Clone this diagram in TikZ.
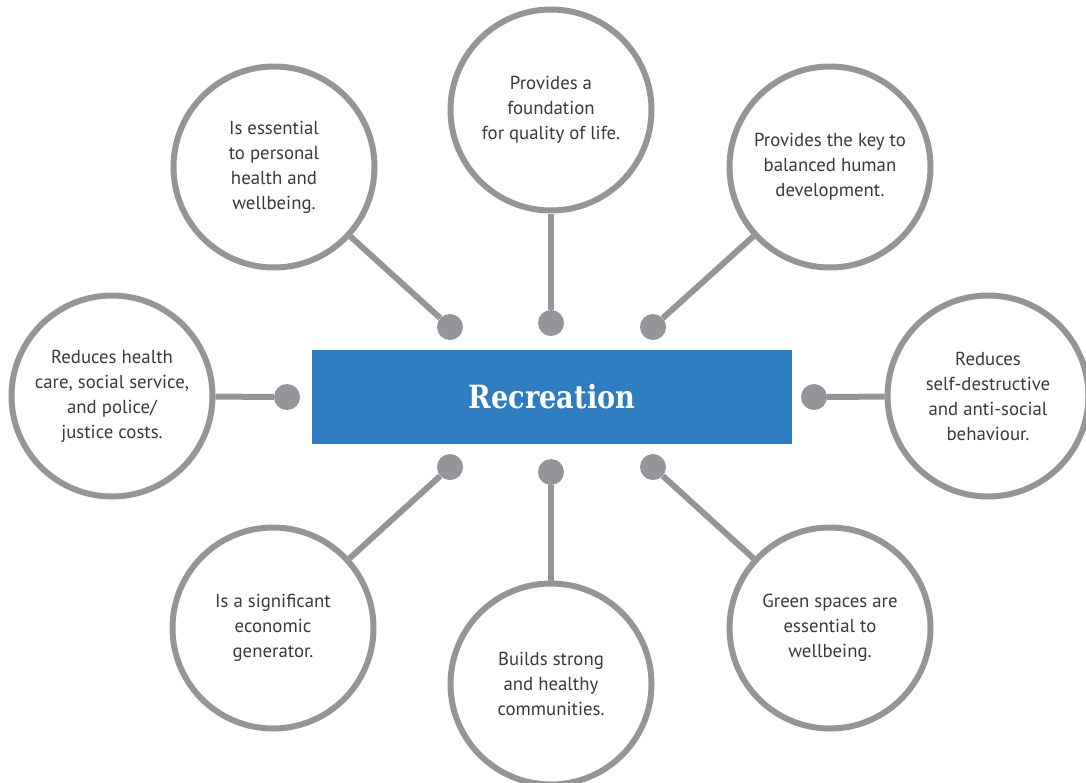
\documentclass[tikz,border=0pt]{standalone}
\usepackage{fontspec}
\setmainfont{PT Sans}
\newfontfamily\titlefont{DejaVu Serif}
\definecolor{linegray}{HTML}{939598}
\definecolor{textgray}{HTML}{3A3A3C}
\definecolor{recblue}{HTML}{2E7DC1}
\begin{document}
\begin{tikzpicture}[x=1pt,y=-1pt,
  bubble/.style={circle, draw=linegray, line width=6pt, fill=white, minimum size=201pt, inner sep=0pt, align=center, text=textgray, font=\fontsize{18.8}{25}\selectfont},
  knob/.style={circle, fill=linegray, minimum size=26pt, inner sep=0pt},
  link/.style={draw=linegray, line width=6pt},
  hub/.style={rectangle, fill=recblue, minimum width=480pt, minimum height=94pt, inner sep=0pt, text=white, font=\titlefont\bfseries\fontsize{32}{36}\selectfont}]
\useasboundingbox (0,0) rectangle (1086,782);
\clip (0,0) rectangle (1086,782);
% central box
\node[hub] (rec) at (552,397) {\scalebox{0.85}[1]{Recreation}};
% bubbles
\node[bubble] (c1) at (551,110) {Provides a\\foundation\\for quality of life.};
\node[bubble] (c2) at (274,167) {Is essential\\to personal\\health and\\wellbeing.};
\node[bubble] (c3) at (830,167) {Provides the key to\\balanced human\\development.};
\node[bubble] (c4) at (112,396) {Reduces health\\care, social service,\\and police/\\justice costs.};
\node[bubble] (c5) at (988,396) {Reduces\\self-destructive\\and anti-social\\behaviour.};
\node[bubble] (c6) at (273,628) {Is a significant\\economic\\generator.};
\node[bubble] (c7) at (551,684) {Builds strong\\and healthy\\communities.};
\node[bubble] (c8) at (830,628) {Green spaces are\\essential to\\wellbeing.};
% knobs
\node[knob] (d1) at (551,323) {};
\node[knob] (d2) at (450,327) {};
\node[knob] (d3) at (653,327) {};
\node[knob] (d4) at (287,397) {};
\node[knob] (d5) at (814,397) {};
\node[knob] (d6) at (450,467) {};
\node[knob] (d7) at (551,472) {};
\node[knob] (d8) at (653,467) {};
% links
\draw[link] (d1) -- (c1);
\draw[link] (d2) -- (c2);
\draw[link] (d3) -- (c3);
\draw[link] (d4) -- (c4);
\draw[link] (d5) -- (c5);
\draw[link] (d6) -- (c6);
\draw[link] (d7) -- (c7);
\draw[link] (d8) -- (c8);
\end{tikzpicture}
\end{document}
